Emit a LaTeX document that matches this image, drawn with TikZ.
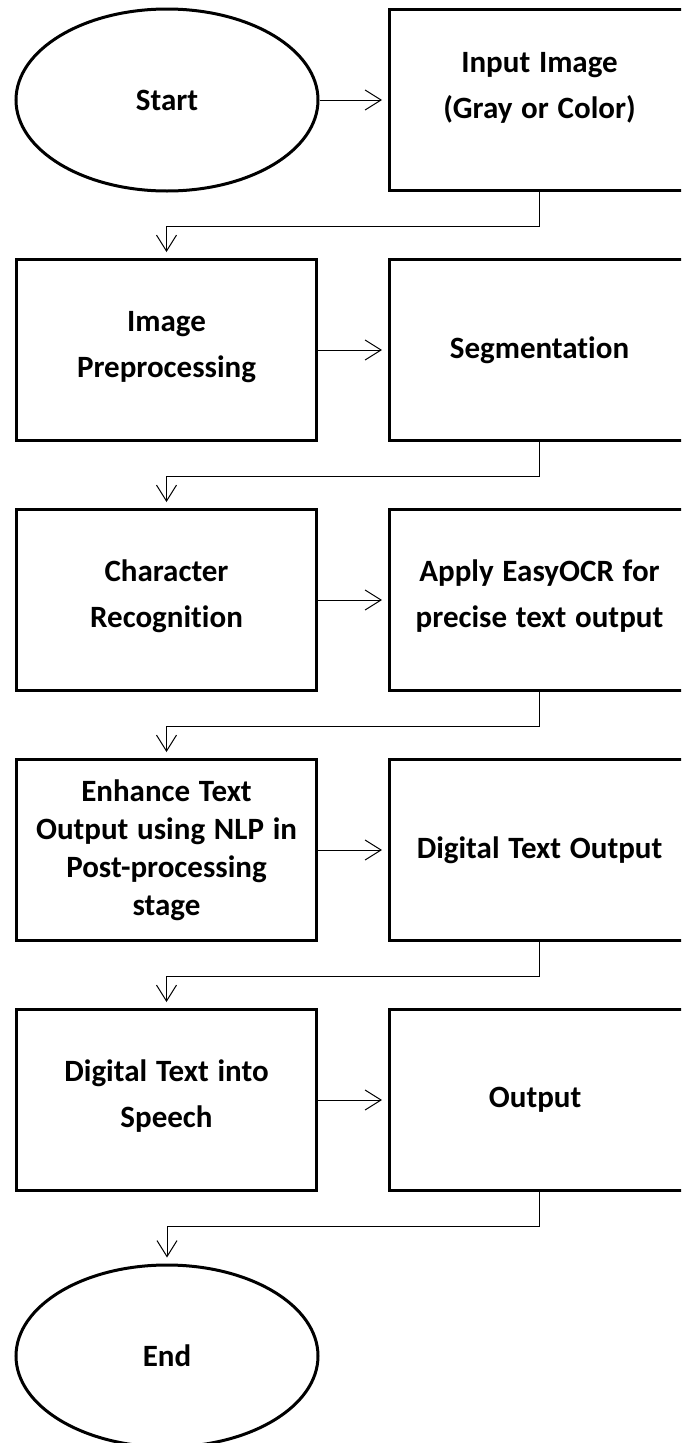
\documentclass[tikz,border=0pt]{standalone}
\usepackage{fontspec}
\setmainfont{Carlito}[Ligatures=CommonOff, WordSpace=1.25]
\usetikzlibrary{positioning}
\usetikzlibrary{arrows.meta}
\usetikzlibrary{shapes.geometric}

\begin{document}
\begin{tikzpicture}[x=1pt, y=-1pt, >={Straight Barb[length=16pt,width=20pt]},
    box/.style={draw, line width=3pt, minimum width=300pt, minimum height=181pt,
        inner sep=0pt, align=center, font=\fontsize{31}{46}\selectfont\bfseries},
    oval/.style={draw, ellipse, line width=3pt, minimum width=302pt, minimum height=182pt,
        inner sep=0pt, font=\fontsize{31}{46}\selectfont\bfseries},
    flow/.style={->, line width=1pt, shorten >=6pt}]
\useasboundingbox (0,0) rectangle (681,1443);
\clip (0,0) rectangle (681,1443);

% --- top row ---
\node[oval] (start) at (167,100) {Start};
\node[box] (r1) at (539.5,100) {Input Image\\(Gray or Color)\\[-16pt]\mbox{}};
\draw[flow] (start) -- (r1);

% --- process rows ---
\foreach \n/\y/\ltext/\rtext in {
    2/350/{Image\\Preprocessing\\[-34pt]\mbox{}}/{Segmentation},
    3/600/{Character\\Recognition\\[-34pt]\mbox{}}/{Apply EasyOCR for\\precise text output\\[-34pt]\mbox{}},
    4/850/{Enhance Text\\[-8pt]Output using NLP in\\[-8pt]Post-processing\\[-8pt]stage}/{Digital Text Output},
    5/1100/{Digital Text into\\Speech\\[-34pt]\mbox{}}/{Output}
} {
    \node[box] (l\n) at (166.5,\y) {\ltext};
    \node[box] (r\n) at (539.5,\y) {\rtext};
    \draw[flow] (l\n) -- (r\n);
}

% --- end ---
\node[oval] (end) at (167,1356) {End};

% --- connectors between rows ---
\foreach \i/\j in {1/2,2/3,3/4,4/5} {
    \draw[flow] (r\i.south) -- ++(0,34.5) -| (l\j.north);
}
\draw[flow] (r5.south) -- ++(0,34.5) -| (end.north);
\end{tikzpicture}
\end{document}
